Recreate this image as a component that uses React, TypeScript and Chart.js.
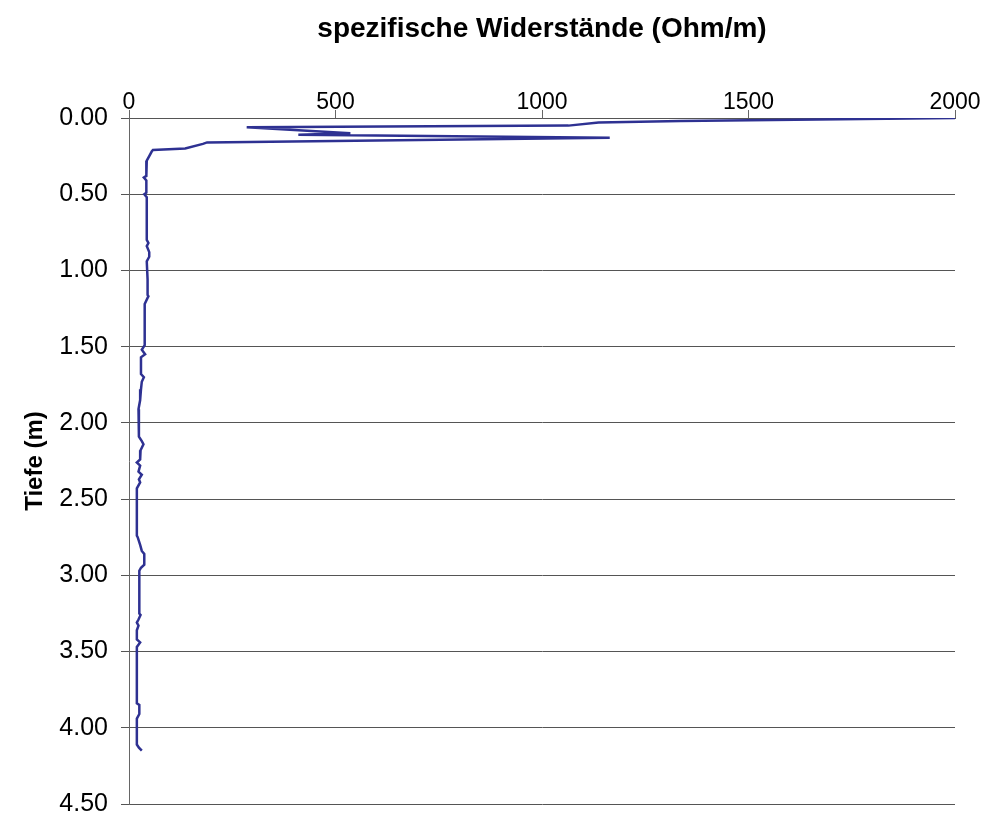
import React, { useEffect, useRef } from "react";
import { Chart, registerables } from "chart.js";

Chart.register(...registerables);

// Tiefe (m) – depth readings
const depths: number[] = [
  0.0, 0.02, 0.03, 0.05, 0.06, 0.1, 0.11, 0.13, 0.16, 0.17, 0.2, 0.21, 0.22, 0.25, 0.28, 0.29,
  0.38, 0.39, 0.41, 0.49, 0.5, 0.52, 0.8, 0.82, 0.84, 0.88, 0.91, 0.94, 1.06, 1.16, 1.17, 1.18,
  1.22, 1.49, 1.52, 1.55, 1.57, 1.68, 1.7, 1.73, 1.78, 1.85, 1.91, 2.09, 2.12, 2.14, 2.18, 2.24,
  2.26, 2.28, 2.32, 2.34, 2.37, 2.39, 2.43, 2.74, 2.75, 2.8, 2.84, 2.86, 2.93, 2.95, 2.97, 3.25,
  3.26, 3.29, 3.31, 3.33, 3.36, 3.42, 3.44, 3.47, 3.84, 3.85, 3.91, 3.94, 4.11, 4.13, 4.15,
];

// spezifische Widerstände (Ohm/m)
const resistances: number[] = [
  2000, 1336, 1137, 1064, 285, 536, 410, 1164, 189, 179, 136, 58, 55, 49, 43, 42,
  42, 36, 42, 42, 37, 43, 43, 47, 43, 49, 49, 43, 45, 45, 47, 45,
  38, 38, 31, 39, 29, 29, 36, 31, 29, 27, 23, 24, 31, 35, 28, 27,
  19, 27, 23, 31, 24, 27, 19, 19, 21, 27, 31, 37, 37, 29, 25, 25,
  28, 23, 19, 23, 19, 19, 27, 19, 19, 25, 25, 19, 19, 24, 31,
];

const xTicks: number[] = [0, 500, 1000, 1500, 2000];
const yTicks: number[] = [0, 0.5, 1, 1.5, 2, 2.5, 3, 3.5, 4, 4.5];

const xTitle = "spezifische Widerstände (Ohm/m)";
const yTitle = "Tiefe (m)";

export default function App() {
  const canvasRef = useRef<HTMLCanvasElement | null>(null);

  useEffect(() => {
    if (!canvasRef.current) return;
    const points = depths.map((d, i) => ({ x: resistances[i], y: d }));
    const chart = new Chart(canvasRef.current, {
      type: "scatter",
      data: {
        datasets: [
          {
            data: points,
            showLine: true,
            borderColor: "#2E3192",
            backgroundColor: "#2E3192",
            borderWidth: 2.5,
            pointRadius: 0,
            tension: 0,
          },
        ],
      },
      options: {
        animation: false,
        responsive: false,
        maintainAspectRatio: false,
        layout: { padding: { left: 0, top: 0, right: 36, bottom: 16 } },
        plugins: { legend: { display: false }, tooltip: { enabled: false } },
        scales: {
          x: {
            type: "linear",
            position: "top",
            min: 0,
            max: 2000,
            afterBuildTicks: (scale: any) => {
              scale.ticks = xTicks.map((v) => ({ value: v }));
            },
            afterFit: (scale: any) => {
              scale.height = 118;
              scale.paddingLeft = 0;
              scale.paddingRight = 0;
            },
            ticks: {
              color: "#000",
              font: { family: "'Liberation Sans', Arial, sans-serif", size: 23, lineHeight: 1 },
              padding: -4,
              maxRotation: 0,
              callback: (v: any) => String(v),
            },
            grid: {
              drawOnChartArea: false,
              drawTicks: true,
              tickLength: 8,
              color: "#666",
              lineWidth: 1,
            },
            border: { display: true, color: "#555", width: 1 },
            title: {
              display: true,
              text: xTitle,
              color: "#000",
              font: { family: "'Liberation Sans', Arial, sans-serif", size: 28, weight: "bold", lineHeight: 1.2 },
              padding: { top: 12, bottom: 0 },
            },
          },
          y: {
            type: "linear",
            position: "left",
            reverse: true,
            min: 0,
            max: 4.5,
            afterBuildTicks: (scale: any) => {
              scale.ticks = yTicks.map((v) => ({ value: v }));
            },
            afterFit: (scale: any) => {
              scale.width = 129;
              scale.paddingTop = 0;
              scale.paddingBottom = 0;
            },
            ticks: {
              color: "#000",
              font: { family: "'Liberation Sans', Arial, sans-serif", size: 25 },
              padding: 13,
              callback: (v: any) => Number(v).toFixed(2),
            },
            grid: {
              drawOnChartArea: true,
              drawTicks: true,
              tickLength: 8,
              color: "#555",
              lineWidth: 1,
            },
            border: { display: true, color: "#666", width: 1 },
            title: {
              display: true,
              text: yTitle,
              color: "#000",
              font: { family: "'Liberation Sans', Arial, sans-serif", size: 24, weight: "bold", lineHeight: 1.2 },
              padding: { top: 21, bottom: 0 },
            },
          },
        },
      },
    });
    return () => chart.destroy();
  }, []);

  return (
    <div style={{ position: "absolute", left: 0, top: 0, width: 991, height: 820, background: "#fff" }}>
      <canvas ref={canvasRef} width={991} height={820} style={{ display: "block", width: 991, height: 820 }} />
    </div>
  );
}
